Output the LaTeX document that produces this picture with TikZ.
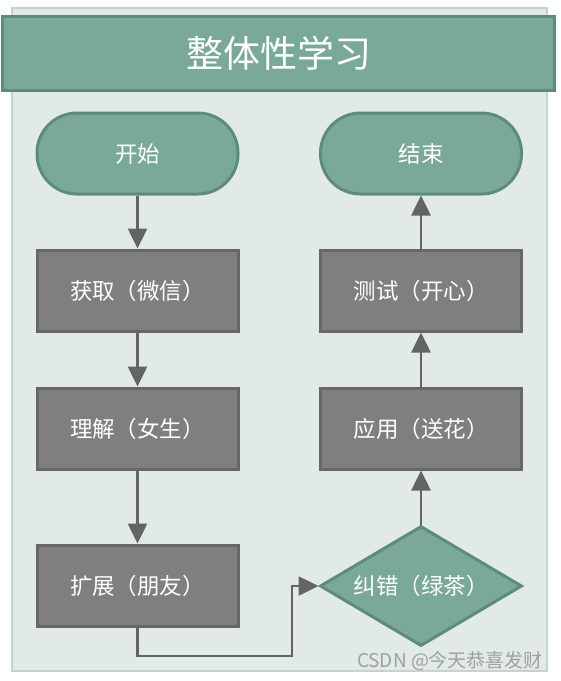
\documentclass[tikz,border=0pt]{standalone}
\usepackage{fontspec}
\setmainfont{Noto Sans CJK SC}
\usetikzlibrary{shapes.geometric,arrows.meta}
\definecolor{panelfill}{HTML}{E1EAE8}
\definecolor{paneldraw}{HTML}{C3D4CF}
\definecolor{tealfill}{HTML}{7AA89B}
\definecolor{tealdraw}{HTML}{5F8A7E}
\definecolor{boxfill}{HTML}{7F7F7F}
\definecolor{boxdraw}{HTML}{676767}
\definecolor{linecol}{HTML}{646464}
\definecolor{wmcol}{HTML}{A0A0A0}
\tikzset{
  term/.style={draw=tealdraw, fill=tealfill, line width=3pt, rounded corners=40pt,
    minimum width=201pt, minimum height=81pt, inner sep=0pt, text=white, font=\fontsize{22.5}{26}\selectfont},
  procbox/.style={draw=boxdraw, fill=boxfill, line width=3pt,
    minimum width=201pt, minimum height=81pt, inner sep=0pt, text=white, font=\fontsize{22.5}{26}\selectfont},
  decide/.style={diamond, draw=tealdraw, fill=tealfill, line width=3pt, aspect=1.68,
    minimum width=202pt, minimum height=120pt, inner sep=0pt, text=white, font=\fontsize{22.5}{26}\selectfont},
  flow/.style={draw=linecol, line width=2.6pt, -{Triangle[width=19pt,length=20pt]}},
}
\begin{document}
\begin{tikzpicture}[x=1pt,y=-1pt]
\useasboundingbox (0,0) rectangle (561,681);
\fill[white] (0,0) rectangle (561,681);
% panel
\draw[draw=paneldraw, fill=panelfill, line width=2pt] (12,8) rectangle (547,671);
% title
\node[draw=tealdraw, fill=tealfill, line width=3pt, minimum width=552pt, minimum height=74pt,
  inner sep=0pt, text=white, font=\fontsize{37}{42}\selectfont] (title) at (278.5,53) {整体性学习};
% nodes
\node[term] (start) at (137.5,153.5) {开始};
\node[term] (end) at (421,153.5) {结束};
\node[procbox] (b1) at (137.5,290.5) {获取（微信）};
\node[procbox] (b2) at (137.5,428.5) {理解（女生）};
\node[procbox] (b3) at (137.5,585.5) {扩展（朋友）};
\node[procbox] (r2) at (421,290.5) {测试（开心）};
\node[procbox] (r1) at (421,428.5) {应用（送花）};
\node[decide] (d) at (421,586) {纠错（绿茶）};
% connectors
\draw[flow] (start) -- (b1);
\draw[flow] (b1) -- (b2);
\draw[flow] (b2) -- (b3);
\coordinate (c1) at (137.5,656);
\coordinate (c2) at (292,656);
\coordinate (c3) at (292,586);
\draw[flow] (b3.south) -- (c1) -- (c2) -- (c3) -- (d.west);
\draw[flow] (d.north) -- (r1.south);
\draw[flow] (r1) -- (r2);
\draw[flow] (r2) -- (end);
% watermark
\node[text=wmcol, font=\fontsize{19}{21}\selectfont, inner sep=0pt] (wm) at (450,661) {CSDN @今天恭喜发财};
\end{tikzpicture}
\end{document}
